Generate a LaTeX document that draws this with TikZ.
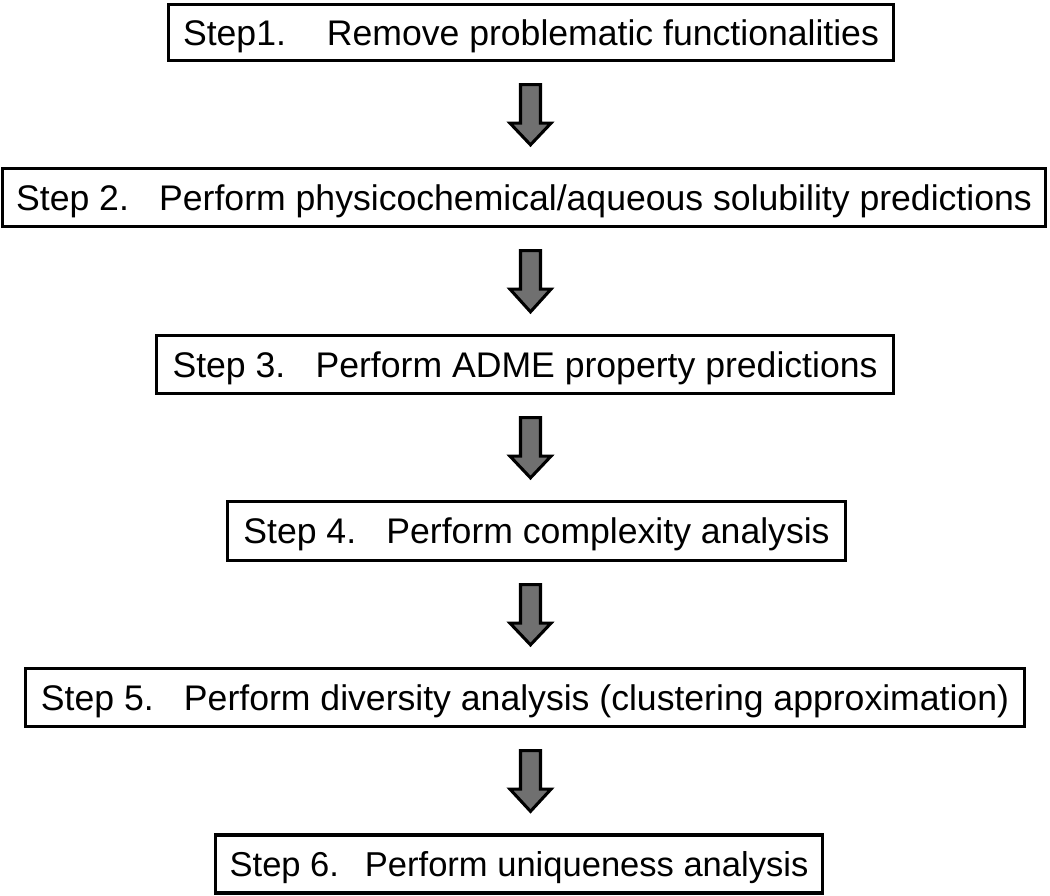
\documentclass[tikz,border=0pt]{standalone}
\usepackage{fontspec}
\setmainfont{Liberation Sans}
\usetikzlibrary{calc}
\definecolor{arrowgray}{RGB}{112,112,112}
\tikzset{
  stepbox/.style={draw=black, line width=2.5pt, inner sep=0pt, align=center,
    text height=19.1pt, text depth=0pt, font=\fontsize{26.7}{32}\selectfont},
  steparrow/.style={draw=black, line width=2.3pt, fill=arrowgray, line join=miter}
}
\begin{document}
\begin{tikzpicture}[x=0.75pt,y=-0.75pt]
      \useasboundingbox (0,0) rectangle (1050,896);
      \coordinate (axis) at (530.5,0);
      \node[stepbox, minimum width=543.75pt, minimum height=42pt] (s1) at (531,32.5) {Step1.\hspace{1.15em}Remove problematic functionalities};
      \node[stepbox, minimum width=782.25pt, minimum height=43.5pt] (s2) at (524,197.5) {Step 2.\hspace{0.85em}Perform physicochemical/aqueous solubility predictions};
      \node[stepbox, minimum width=552.75pt, minimum height=43.5pt] (s3) at (525,364.5) {Step 3.\hspace{0.85em}Perform ADME property predictions};
      \node[stepbox, minimum width=463.5pt, minimum height=44.25pt] (s4) at (536.5,531) {Step 4.\hspace{0.85em}Perform complexity analysis};
      \node[stepbox, minimum width=749.25pt, minimum height=43.5pt] (s5) at (525,697.5) {Step 5.\hspace{0.85em}Perform diversity analysis (clustering approximation)};
      \node[stepbox, minimum width=455.25pt, minimum height=43.5pt, font=\fontsize{25.9}{31}\selectfont] (s6) at (519,864) {Step 6.\hspace{0.75em}Perform uniqueness analysis};
      % block arrows between the steps
      \foreach \a/\b in {s1/s2,s2/s3,s3/s4,s4/s5,s5/s6} {
        \coordinate (t) at ($(\a.south -| axis)+(0,22.5)$);
        \coordinate (p) at ($(\b.north -| axis)+(0,-22)$);
        \draw[steparrow] ($(t)+(-10,0)$) -- ($(t)+(10,0)$) -- ($(t)+(10,38.5)$) -- ($(t)+(20.5,38.5)$)
          -- (p) -- ($(t)+(-20.5,38.5)$) -- ($(t)+(-10,38.5)$) -- cycle;
      }
\end{tikzpicture}
\end{document}
